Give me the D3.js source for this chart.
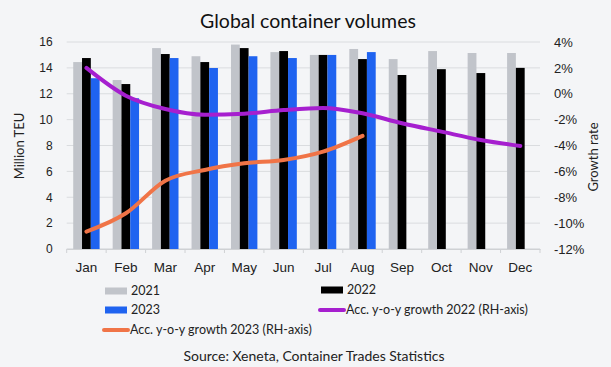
<!DOCTYPE html>
<html><head><meta charset="utf-8">
<script src="https://cdn.jsdelivr.net/npm/d3@7"></script>
<style>
html,body{margin:0;padding:0;background:#f4f5f7;}
svg{display:block;font-family:"Lato","Open Sans",sans-serif;}
</style></head><body>
<svg id="c" width="611" height="367"></svg>
<script>
const months = ["Jan","Feb","Mar","Apr","May","Jun","Jul","Aug","Sep","Oct","Nov","Dec"];
const v2021 = [14.45,13.06,15.53,14.9,15.8,15.22,15.0,15.46,14.68,15.3,15.15,15.15];
const v2022 = [14.76,12.75,15.07,14.45,15.53,15.3,15.0,14.68,13.45,13.9,13.6,14.0];
const v2023 = [13.2,11.65,14.76,13.99,14.9,14.76,15.0,15.22,null,null,null,null];
const g2022 = [2.0,-0.15,-1.18,-1.62,-1.54,-1.26,-1.1,-1.51,-2.28,-2.93,-3.57,-4.04];
const g2023 = [-10.66,-9.24,-6.72,-5.89,-5.38,-5.12,-4.48,-3.26];
const leftTicks = [0,2,4,6,8,10,12,14,16];
const rightTicks = [-12,-10,-8,-6,-4,-2,0,2,4];

const colors = {c2021:"#c1c4ca", c2022:"#000000", c2023:"#1f63f0", g2022:"#a61fcf", g2023:"#f07447"};
const svg = d3.select("#c");
const L=66.7, R=540, T=42, B=249;
const x = d3.scaleBand().domain(months).range([L,R]).paddingInner(0).paddingOuter(0);
const yL = d3.scaleLinear().domain([0,16]).range([B,T]);
const yR = d3.scaleLinear().domain([-12,4]).range([B,T]);
const bw = 8.8;
const groupW = bw*3;

// title
svg.append("text").attr("x",308).attr("y",28).attr("text-anchor","middle")
  .attr("font-size",19.5).attr("fill","#111").text("Global container volumes");

// gridlines
svg.append("g").selectAll("line").data(leftTicks).join("line")
  .attr("x1",L).attr("x2",R).attr("y1",d=>yL(d)).attr("y2",d=>yL(d))
  .attr("stroke",d=>d===0?"#cfd1d4":"#dadcdf").attr("stroke-width",1);

// left axis
const axL = d3.axisLeft(yL).tickValues(leftTicks).tickSize(0).tickPadding(14);
const gL = svg.append("g").attr("transform",`translate(${L},0)`).call(axL);
gL.select(".domain").remove();
gL.selectAll("text").attr("font-family","'Liberation Sans',Arial,sans-serif").attr("font-size",12).attr("fill","#222");

// right axis
const axR = d3.axisRight(yR).tickValues(rightTicks).tickSize(0).tickPadding(14).tickFormat(d=>d+"%");
const gR = svg.append("g").attr("transform",`translate(${R},0)`).call(axR);
gR.select(".domain").remove();
gR.selectAll("text").attr("font-size",13).attr("fill","#222");

// bottom axis
const axB = d3.axisBottom(x).tickSize(0).tickPadding(13);
const gB = svg.append("g").attr("transform",`translate(0,${B})`).call(axB);
gB.select(".domain").attr("stroke","#cfd1d4");
gB.selectAll("text").attr("font-size",13.5).attr("fill","#222");
// tick marks at band boundaries
svg.append("g").selectAll("line").data(months.concat(["_end"])).join("line")
  .attr("x1",(d,i)=>L+i*x.bandwidth()).attr("x2",(d,i)=>L+i*x.bandwidth())
  .attr("y1",B).attr("y2",B+4).attr("stroke","#cfd1d4");

// bars
const series = [{v:v2021,c:colors.c2021},{v:v2022,c:colors.c2022},{v:v2023,c:colors.c2023}];
series.forEach((s,k)=>{
  svg.append("g").selectAll("rect").data(months.map((m,i)=>({m,val:s.v[i]})).filter(d=>d.val!=null)).join("rect")
    .attr("x",d=>x(d.m)+(x.bandwidth()-groupW)/2+k*bw)
    .attr("width",bw)
    .attr("y",d=>yL(d.val)).attr("height",d=>B-yL(d.val))
    .attr("fill",s.c);
});

// lines
const line = d3.line().x(d=>x(d.m)+x.bandwidth()/2).y(d=>yR(d.v)).curve(d3.curveMonotoneX);
svg.append("path").datum(g2022.map((v,i)=>({m:months[i],v})))
  .attr("d",line).attr("fill","none").attr("stroke",colors.g2022).attr("stroke-width",4).attr("stroke-linecap","round");
svg.append("path").datum(g2023.map((v,i)=>({m:months[i],v})))
  .attr("d",line).attr("fill","none").attr("stroke",colors.g2023).attr("stroke-width",4).attr("stroke-linecap","round");

// axis titles
svg.append("text").attr("transform","translate(24,146) rotate(-90)").attr("text-anchor","middle")
  .attr("font-size",13).attr("fill","#222").text("Million TEU");
svg.append("text").attr("transform","translate(598,157) rotate(-90)").attr("text-anchor","middle")
  .attr("font-size",13).attr("fill","#222").text("Growth rate");

// legend
const legend = [
  {label:"2021", type:"rect", c:colors.c2021, x:105, y:291},
  {label:"2022", type:"rect", c:colors.c2022, x:321, y:290},
  {label:"2023", type:"rect", c:colors.c2023, x:105, y:310},
  {label:"Acc. y-o-y growth 2022 (RH-axis)", type:"line", c:colors.g2022, x:320, y:310},
  {label:"Acc. y-o-y growth 2023 (RH-axis)", type:"line", c:colors.g2023, x:104, y:330}
];
const lg = svg.append("g").selectAll("g").data(legend).join("g");
lg.each(function(d){
  const g = d3.select(this);
  if(d.type==="rect") g.append("rect").attr("x",d.x).attr("y",d.y-3.5).attr("width",22).attr("height",7).attr("fill",d.c);
  else g.append("line").attr("x1",d.x).attr("x2",d.x+24).attr("y1",d.y).attr("y2",d.y).attr("stroke",d.c).attr("stroke-width",4).attr("stroke-linecap","round");
  g.append("text").attr("x",d.x+26).attr("y",d.y).attr("dy","0.35em")
    .attr("font-size",12.5).attr("fill","#222").text(d.label);
});

// source
svg.append("text").attr("x",314).attr("y",356).attr("dy","0.35em").attr("text-anchor","middle")
  .attr("font-size",14).attr("fill","#222").text("Source: Xeneta, Container Trades Statistics");
</script>
</body></html>
